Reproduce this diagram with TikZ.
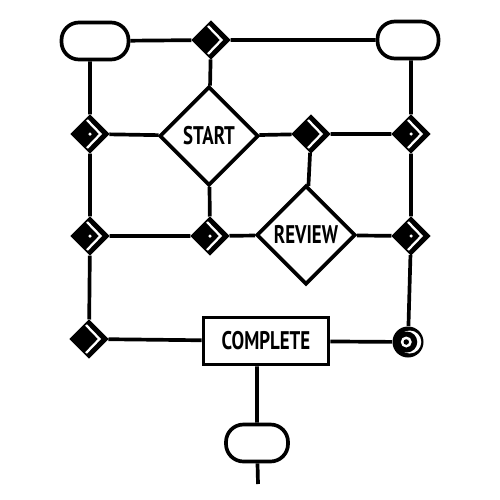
\documentclass[tikz,border=0pt]{standalone}
\usepackage{fontspec}
\setmainfont{PT Sans}
\newfontfamily\handfont[FakeStretch=0.74]{PT Sans}
\usepackage{tikz}
\usetikzlibrary{shapes,shapes.geometric,calc}

\newcommand{\chev}{\draw[white,line width=1.3pt] ([shift={(-0.6mm,2.8mm)}]path picture bounding box.center) -- ++(2.7mm,-2.8mm) -- ++(-2.7mm,-2.8mm);}
\newcommand{\chevdot}{\fill[white] (path picture bounding box.center) circle(0.35mm);}

\tikzset{
  wire/.style={line width=2.1pt},
  pill/.style={draw, line width=2.1pt, rectangle, rounded corners=3.5mm, minimum width=13.4mm, minimum height=7.4mm},
  bigdia/.style={draw, line width=2.1pt, diamond, minimum width=19.8mm, minimum height=19.8mm, inner sep=0pt, font=\handfont\bfseries\fontsize{14.5}{14.5}\selectfont},
  smalldia/.style={diamond, fill=black, draw=black, line width=0.8pt, minimum width=7.6mm, minimum height=7.6mm, inner sep=0pt, path picture=\chev},
  dotdia/.style={smalldia, path picture={\chev\chevdot}},
  endcirc/.style={circle, fill=black, minimum size=6.2mm, inner sep=0pt,
    path picture={\fill[white] ([xshift=0.35mm]path picture bounding box.center) circle(2.3mm);
      \fill[black] ([xshift=-0.25mm]path picture bounding box.center) circle(2.1mm);
      \fill[white] ([xshift=-0.35mm]path picture bounding box.center) circle(1.1mm);
      \fill[black] ([xshift=-0.35mm]path picture bounding box.center) circle(0.55mm);}},
  stepbox/.style={draw, line width=2.1pt, rectangle, minimum width=25mm, minimum height=9.4mm, font=\handfont\bfseries\fontsize{14.5}{14.5}\selectfont}
}

\begin{document}
\begin{tikzpicture}[x=0.2mm,y=-0.2mm]
  \useasboundingbox (0,0) rectangle (500,500);

  % top row
  \node[pill] (pillL) at (95,41) {};
  \node[pill, minimum width=12.2mm] (pillR) at (408,40) {};
  \node[smalldia] (D1) at (211,40) {};

  % main steps
  \node[bigdia] (start) at (209,136) {START};
  \node[bigdia] (review) at (306,235) {REVIEW};
  \node[stepbox] (complete) at (266,341) {COMPLETE};
  \node[pill, minimum width=12.4mm] (pillB) at (257,443) {};
  \coordinate (out) at (258,484);

  % junctions
  \foreach \n/\p in {L2/{(90,134)},R2/{(411,134)},L3/{(90,236)},M3/{(210,236)},R3/{(411,236)}}
    \node[dotdia] (\n) at \p {};
  \node[smalldia] (M2) at (311,134) {};
  \node[smalldia] (L4) at (89,339) {};
  \node[endcirc] (R4) at (408,342) {};

  % rows
  \draw[wire] (pillL) -- (D1) -- (pillR);
  \draw[wire] (L2) -- (start) -- (M2) -- (R2);
  \draw[wire] (L3) -- (M3) -- (review) -- (R3);
  \draw[wire] (L4) -- (complete) -- (R4);

  % columns
  \draw[wire] (pillL.south -| L2) -- (L2) -- (L3) -- (L4);
  \draw[wire] (pillR.south -| R2) -- (R2) -- (R3) -- (R4);
  \draw[wire] (D1) -- (start);
  \draw[wire] (start) -- (M3);
  \draw[wire] (M2) -- (review);
  \draw[wire] (complete.south -| pillB) -- (pillB) -- (out);
\end{tikzpicture}
\end{document}
